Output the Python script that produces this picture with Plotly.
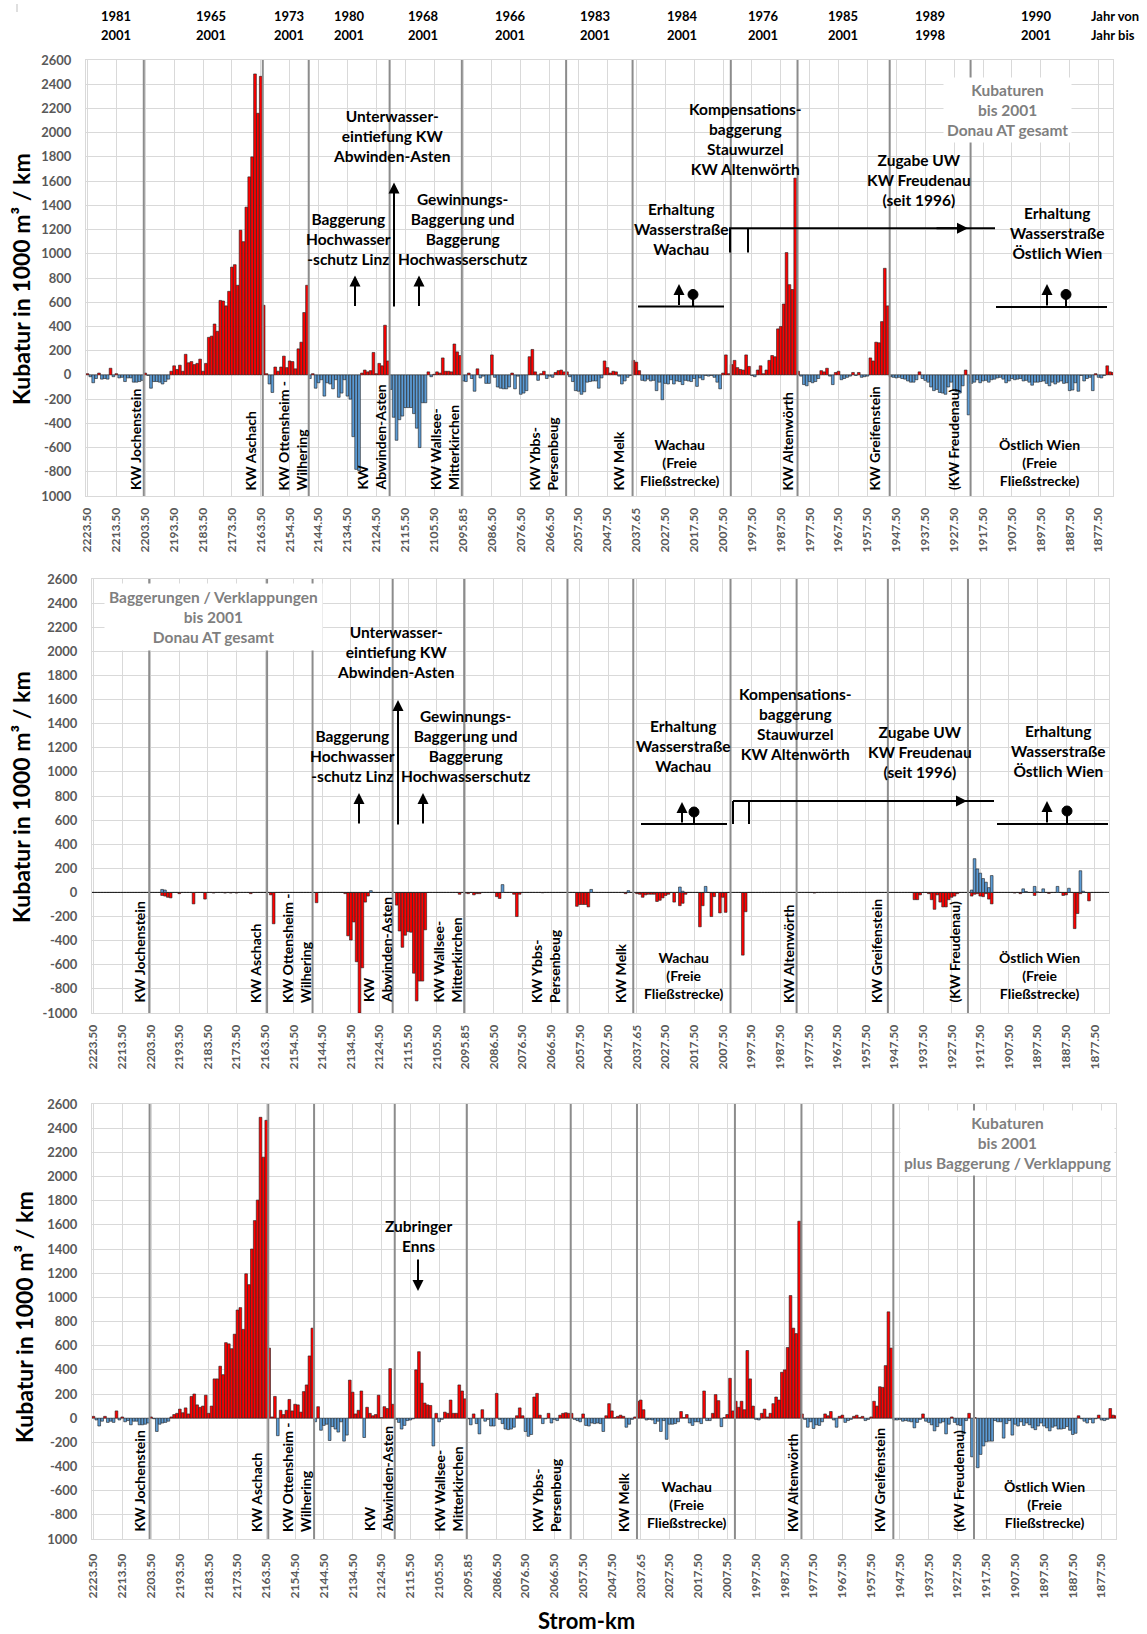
import plotly.graph_objects as go

W, H = 1147, 1634

# ---------------- data ----------------
tick_km = ["2223.50", "2213.50", "2203.50", "2193.50", "2183.50", "2173.50", "2163.50", "2154.50",
           "2144.50", "2134.50", "2124.50", "2115.50", "2105.50", "2095.85", "2086.50", "2076.50",
           "2066.50", "2057.50", "2047.50", "2037.65", "2027.50", "2017.50", "2007.50", "1997.50",
           "1987.50", "1977.50", "1967.50", "1957.50", "1947.50", "1937.50", "1927.50", "1917.50",
           "1907.50", "1897.50", "1887.50", "1877.50"]

# Kubaturen bis 2001 (1000 m3 / km), one value per category (km section)
kubatur_2001 = [
    10, -15, -65, -30, 15, -35, -30, -35, 55, -15, 10, -25, -20, -55, -25, -25, -60, -60, -55, -45,
    15, -5, -110, -55, -55, -60, -75, -55, -35, 30,
    75, 45, 80, 30, 170, 100, 110, 85, 95, 130,
    30, 95, 310, 320, 420, 360, 615, 610, 570, 690,
    890, 910, 740, 1195, 1100, 1385, 1635, 1800, 2485, 2160,
    2465,
    575, 10, -75, -145, 65, 30, 65, 155, 60, 115, 110, 50, 215, 270, 515, 740,
    -30, 10, -110, -65, -40, -175, -65, -75, -115, -40, -185, -150, -40, -175, -200, -510, -780, -790,
    15, 40, 25, 35, 185, 10, 95, 75, 410, 115,
    -120, -350, -540, -370, -340, -270, -270, -270, -320, -440, -600, -230, -230, 25, -15, 5, 25, 15,
    140, 30, 30, 25, 255, 190, 160,
    -50, -55, 15, -30, -135, 50, -25, -10, -70, -70, 165, -20, -100, -110, -115, -115, -100, 15, -115,
    -10, -160, -150, -130, 150, 210, 25, -45, 10, 30, -30, -10, -20, 20, 35, 40, 25,
    25, -15, -55, -130, -135, -160, -140, -60, -55, -50, -50, -110, -25, 115, 60, 15, 30, 25, -10, -75,
    -50, -20, -5,
    120, 105, 35, -45, -50, -35, -50, -45, -130, -60, -205, -70, -75, -40, -75, -50, -55, -80, -45, -50,
    -55, -30, -95, -25, -40, -5, -10, -5, -20, -60, -115, 15, 165, 10,
    85, 120, 60, 45, 40, 165, 70, -5, -15, 40, 75, 10, 40, 120, 160, 150, 380, 400, 585, 1010, 745, 705, 1625,
    30, -10, -80, -90, -55, -65, -55, -30, 35, 25, 55, -10, -80, 20, 30, -40, -30, -20, -10, 20, -5, 20,
    -20, -15, -10, 140, 115, 270, 265, 440, 880, 570,
    -15, -20, -25, -20, -30, -35, -50, -60, -60, -40, 25, -30, -45, -60, -100, -130, -120, -145, -150,
    -160, -100, -60, -130, -140, -150, -90, 40, -330,
    -70, -60, -40, -65, -50, -45, -60, -40, -35, -25, -20, -35, -65, -50, -30, -40, -35, -30, -50, -45,
    -60, -85, -60, -60, -55, -50, -70, -90, -60, -75, -60, -50, -70, -65, -130, -125, -65, -135, -5, -50,
    -30, -20, -130, 10, -20, -25, -5, 75, 25, 20,
]

# Baggerungen (negative) by category index
baggerung = {
    24: -25, 25: -30, 26: -40, 27: -45, 30: -10, 35: -95, 39: -55, 42: -5, 46: -5, 48: -5, 50: -5, 55: -10,
    62: -20, 63: -260, 78: -85,
    88: -10, 89: -360, 90: -395, 91: -245, 92: -575, 93: -1000, 94: -625, 95: -80, 96: -30,
    106: -105, 107: -320, 108: -455, 109: -355, 110: -325, 111: -330, 112: -670, 113: -900, 114: -735,
    115: -735, 116: -310,
    128: -15, 130: -5, 131: -10, 133: -20, 134: -10, 135: -10, 141: -35, 142: -50, 147: -15, 148: -200,
    149: -15, 157: -3,
    169: -115, 170: -100, 171: -100, 172: -100, 173: -120, 186: -10,
    190: -10, 191: -15, 192: -40, 193: -20, 194: -15, 195: -15, 196: -15, 197: -75, 198: -65, 199: -45,
    200: -25, 201: -15, 203: -80, 205: -110, 206: -90, 207: -15, 212: -285, 213: -110, 216: -200,
    217: -35, 219: -170, 220: -40, 221: -165,
    227: -520, 228: -160, 252: -5,
    287: -60, 288: -60, 289: -20, 292: -10, 293: -60, 294: -140, 295: -20, 296: -80, 297: -120, 298: -120,
    299: -60, 300: -40, 301: -30, 302: -10,
    307: -30, 308: -15, 309: -10, 310: -30, 311: -35, 312: -10, 313: -55, 314: -95, 322: -5, 324: -10,
    329: -25, 334: -8, 339: -25, 340: -20, 343: -300, 344: -175, 345: -10, 348: -70,
}
# Verklappungen (positive) by category index
verklappung = {
    24: 25, 25: 20, 97: 15, 143: 65, 174: 25, 187: 15, 205: 45, 206: 10, 214: 50,
    307: 20, 308: 280, 309: 195, 310: 160, 311: 115, 312: 85, 313: 40, 314: 140,
    325: 30, 326: 8, 329: 50, 330: 5, 332: 30, 337: 50, 341: 35, 345: 180, 346: 10,
}

# Kubaturen bis 2001 plus Baggerung / Verklappung
kubatur_plus = [
    15, -15, -65, -25, 15, -35, -25, -35, 60, -15, 10, -30, -20, -55, -25, -25, -55, -55, -50, -40,
    10, -5, -110, -50, -40, -35, -25, 10, 30, 40,
    75, 45, 85, 35, 180, 200, 110, 90, 100, 190,
    40, 100, 325, 325, 430, 360, 625, 615, 575, 695,
    895, 915, 735, 1195, 1105, 1400, 1635, 1805, 2490, 2160,
    2465,
    580, 10, 180, -145, 65, 30, 65, 155, 60, 115, 110, 50, 220, 275, 515, 745,
    -30, 95, -100, -60, -50, -185, -70, -90, -115, -30, -190, -140, 315, 215, 35, 65, 225, -160,
    90, 40, 20, 30, 190, 5, 95, 80, 410, 115,
    -10, -35, -90, -60, -20, -15, -5, 400, 550, 290, 125, 110, 105, -230, 40, -30, -10, 50, 40, 150,
    40, 40, 275, 225, 160,
    -5, -55, 35, -45, -130, 70, -25, -10, -65, -65, 205, -10, -45, -90, -95, -90, -75, 20, 85, 20,
    -110, -150, -135, 175, 205, 25, -45, -5, 40, -40, -10, -20, 25, 40, 45, 40,
    40, -10, -20, -30, 35, -60, -65, -40, -45, -40, -45, -110, 20, 120, 60, 5, 15, 25, 15, -75, -50, -10, 10,
    140, 150, 70, -15, -10, -15, -45, -25, -110, -20, -175, -50, -50, -45, -30, 55, 5, 30, -40, -60,
    -30, -30, -45, 225, -20, -20, 40, 195, 145, -70, 5, 30, 330, 60,
    140, 90, 140, 70, 560, 325, 100, -10, -15, 40, 75, 10, 40, 120, 175, 150, 380, 400, 585, 1015, 745, 700, 1630,
    35, -10, -75, -30, -85, -55, -60, -30, 35, 20, 55, -15, -75, 15, 25, -35, -20, -10, 15, 25,
    5, 15, -20, -10, 10, 140, 100, 260, 255, 435, 880, 580,
    -15, -15, -10, -25, -20, -25, -30, -80, -35, -10, 35, -25, -35, -55, -105, -70, -40, -30, -130, -50,
    10, -35, -55, -60, -130, -20, 40, -320,
    5, -410, -300, -230, -195, -190, -190, -20, -30, -30, -165, -45, -20, -140, -50, -65, -30, -60, -40, -55,
    -80, -95, -65, -40, -65, -80, -105, -75, -65, -90, -90, -85, -70, -100, -135, -125, 20, -5, -25, -40,
    -10, -40, -5, 25, -15, -20, -10, 80, 25, 20,
]

# power plant (KW) positions on the category axis
kw_positions = [19.5, 60.7, 76.6, 104.6, 129.6, 165.7, 188.7, 222.7, 245.8, 277.7, 305.7]

years_from = ["1981", "1965", "1973", "1980", "1968", "1966", "1983", "1984", "1976", "1985", "1989", "1990"]
years_to = ["2001", "2001", "2001", "2001", "2001", "2001", "2001", "2001", "2001", "2001", "1998", "2001"]

# ---------------- styling / layout ----------------
RED = "#FF0000"
BLUE = "#5B9BD5"
GRID = "#D9D9D9"
TICK = "#595959"
KWLINE = "#8C8C8C"
FONT = "Lato"
TS = 15.5   # annotation text size


def PX(x):
    return x / W


def PY(y):
    return 1 - y / H


panels = [
    dict(x0=86, x1=1113, y0=60, y1=496, xstand=6),
    dict(x0=92, x1=1109, y0=579, y1=1013, xstand=6),
    dict(x0=92, x1=1116, y0=1104, y1=1539, xstand=9),
]

ncat = len(kubatur_2001)
cats = list(range(ncat))

fig = go.Figure()

line_style = dict(color="#1F1F1F", width=0.6)

# panel 1
fig.add_trace(go.Bar(x=list(range(len(kubatur_2001))), y=kubatur_2001,
                     marker=dict(color=[RED if v >= 0 else BLUE for v in kubatur_2001], line=line_style),
                     xaxis="x", yaxis="y"))
# panel 2
bag_vals = [baggerung.get(i, 0) for i in cats]
ver_vals = [verklappung.get(i, 0) for i in cats]
fig.add_trace(go.Bar(x=cats, y=bag_vals, marker=dict(color=RED, line=line_style), xaxis="x2", yaxis="y2"))
fig.add_trace(go.Bar(x=cats, y=ver_vals, marker=dict(color=BLUE, line=line_style), xaxis="x2", yaxis="y2"))
# panel 3
fig.add_trace(go.Bar(x=list(range(len(kubatur_plus))), y=kubatur_plus,
                     marker=dict(color=[RED if v >= 0 else BLUE for v in kubatur_plus], line=line_style),
                     xaxis="x3", yaxis="y3"))

yvals = list(range(-1000, 2601, 200))
layout = dict(
    width=W, height=H, margin=dict(l=0, r=0, t=0, b=0, autoexpand=False),
    paper_bgcolor="white", plot_bgcolor="white", barmode="relative", bargap=0.06,
    showlegend=False, hovermode=False, font=dict(family=FONT),
)
for k, p in enumerate(panels):
    sx = "" if k == 0 else str(k + 1)
    yt = [("1000" if (v == -1000 and k != 1) else str(v)) for v in yvals]
    layout["xaxis" + sx] = dict(
        domain=[PX(p["x0"]), PX(p["x1"])], anchor="y" + sx, range=[-0.5, 355],
        tickmode="array", tickvals=list(range(0, 351, 10)), ticktext=tick_km, tickangle=-90,
        tickfont=dict(family=FONT, size=12, color=TICK, weight="bold"),
        showgrid=True, gridcolor=GRID, gridwidth=1, zeroline=False,
        showline=True, linecolor=GRID, mirror=True, ticks="", ticklabelstandoff=p["xstand"],
    )
    layout["yaxis" + sx] = dict(
        domain=[PY(p["y1"]), PY(p["y0"])], anchor="x" + sx, range=[-1000, 2600],
        tickmode="array", tickvals=yvals, ticktext=yt,
        tickfont=dict(family=FONT, size=13, color=TICK, weight="bold"),
        showgrid=True, gridcolor=GRID, gridwidth=1, zeroline=True, zerolinecolor=GRID, zerolinewidth=1,
        showline=True, linecolor=GRID, mirror=True, ticks="", ticklabelstandoff=11,
    )
fig.update_layout(**layout)

shapes = []
annotations = []

# KW separator lines
for k in range(3):
    sx = "" if k == 0 else str(k + 1)
    for pos in kw_positions:
        shapes.append(dict(type="line", xref="x" + sx, yref="y" + sx + " domain", x0=pos, x1=pos, y0=0, y1=1,
                           line=dict(color=KWLINE, width=2), layer="above"))


def txt(text, x, y, size=TS, color="black", xanchor="center", yanchor="middle", angle=0, align="center",
        bg=None, pad=1):
    a = dict(text=text, x=PX(x), y=PY(y), xref="paper", yref="paper", showarrow=False,
             font=dict(family=FONT, size=size, color=color, weight="bold"),
             xanchor=xanchor, yanchor=yanchor, textangle=angle, align=align)
    if bg:
        a["bgcolor"] = bg
        a["borderpad"] = pad
    return a


def arrow(xh, yh, xt, yt, width=2):
    return dict(text="", x=PX(xh), y=PY(yh), xref="paper", yref="paper", showarrow=True,
                ax=xt - xh, ay=yt - yh, axref="pixel", ayref="pixel",
                arrowhead=2, arrowsize=1.1, arrowwidth=width, arrowcolor="black", standoff=0, startstandoff=0)


def seg(x0, y0, x1, y1, width=2, color="black"):
    return dict(type="line", xref="paper", yref="paper", x0=PX(x0), y0=PY(y0), x1=PX(x1), y1=PY(y1),
                line=dict(color=color, width=width), layer="above")


def dot(cx, cy, r=5):
    return dict(type="circle", xref="paper", yref="paper", x0=PX(cx - r), x1=PX(cx + r),
                y0=PY(cy + r), y1=PY(cy - r), fillcolor="black", line=dict(color="black", width=1), layer="above")


# small corner mark (top left)
shapes.append(seg(17, 4, 17, 12, width=1, color="#BFBFBF"))

# header years
year_x = [116, 211, 289, 349, 423, 510, 595, 682, 763, 843, 930, 1036]
for yf, yto, xx in zip(years_from, years_to, year_x):
    annotations.append(txt(yf, xx, 16, size=13))
    annotations.append(txt(yto, xx, 35, size=13))
annotations.append(txt("Jahr von", 1089, 16, size=13, xanchor="left"))
annotations.append(txt("Jahr bis", 1089, 35, size=13, xanchor="left"))

# y titles and x title
ytitle = "Kubatur in 1000 m³ / km"
for (xx, yy) in [(21, 279), (21, 797), (24, 1317)]:
    annotations.append(txt(ytitle, xx, yy, size=23, angle=-90))
annotations.append(txt("Strom-km", 586, 1620, size=22))

# ---- panel 1 annotations ----
annotations += [
    txt("Unterwasser-<br>eintiefung KW<br>Abwinden-Asten", 391, 135.5),
    txt("Baggerung<br>Hochwasser<br>-schutz Linz", 348, 238.7),
    txt("Gewinnungs-<br>Baggerung und<br>Baggerung<br>Hochwasserschutz", 462, 229),
    txt("Erhaltung<br>Wasserstraße<br>Wachau", 681, 229),
    txt("Kompensations-<br>baggerung<br>Stauwurzel<br>KW Altenwörth", 745, 138.8),
    txt("Zugabe UW<br>KW Freudenau<br>(seit 1996)", 919, 180),
    txt("Erhaltung<br>Wasserstraße<br>Östlich Wien", 1057, 233),
    txt("Kubaturen<br>bis 2001<br>Donau AT gesamt", 1007, 109.6, color="#7F7F7F", bg="white", pad=3),
    arrow(394, 182.5, 394, 308), arrow(355, 275.5, 355, 307.5), arrow(419, 275.5, 419, 307.5),
    arrow(679, 284, 679, 306.5), arrow(1047, 284, 1047, 307),
    arrow(968, 228.3, 935, 228.3),
]
shapes += [
    seg(638, 306.5, 724, 306.5), seg(693, 294.5, 693, 306.5), dot(693, 294.5),
    seg(729, 228.3, 995, 228.3), seg(730, 228.3, 730, 252.5), seg(748, 228.3, 748, 252.5),
    seg(996, 307, 1107, 307), seg(1066, 294.5, 1066, 307), dot(1066, 294.5),
]

# ---- panel 2 annotations ----
annotations += [
    txt("Unterwasser-<br>eintiefung KW<br>Abwinden-Asten", 395, 652),
    txt("Baggerung<br>Hochwasser<br>-schutz Linz", 352, 756),
    txt("Gewinnungs-<br>Baggerung und<br>Baggerung<br>Hochwasserschutz", 465, 746),
    txt("Erhaltung<br>Wasserstraße<br>Wachau", 683, 746),
    txt("Kompensations-<br>baggerung<br>Stauwurzel<br>KW Altenwörth", 795, 724),
    txt("Zugabe UW<br>KW Freudenau<br>(seit 1996)", 920, 752),
    txt("Erhaltung<br>Wasserstraße<br>Östlich Wien", 1058, 751),
    txt("Baggerungen / Verklappungen<br>bis 2001<br>Donau AT gesamt", 213, 617, color="#7F7F7F", bg="white", pad=4),
    arrow(398, 700, 398, 826), arrow(359, 793, 359, 825), arrow(423, 793, 423, 825),
    arrow(682, 802, 682, 824), arrow(1047, 801, 1047, 824),
    arrow(967, 801, 934, 801),
]
shapes += [
    seg(641, 824, 727, 824), seg(694, 812, 694, 824), dot(694, 812),
    seg(733, 801, 994, 801), seg(733, 801, 733, 824), seg(749, 801, 749, 824),
    seg(997, 824, 1108, 824), seg(1067, 811, 1067, 824), dot(1067, 811),
]

# ---- panel 3 annotations ----
annotations += [
    txt("Zubringer<br>Enns", 418, 1236),
    arrow(418, 1291, 418, 1258),
    txt("Kubaturen<br>bis 2001<br>plus Baggerung / Verklappung", 1007, 1143, color="#7F7F7F", bg="white", pad=3),
]

# KW labels (rotated)
kw_texts = ["KW Jochenstein", "KW Aschach", "KW Ottensheim -<br>Wilhering", "KW<br>Abwinden-Asten",
            "KW Wallsee-<br>Mitterkirchen", "KW Ybbs-<br>Persenbeug", "KW Melk", "KW Altenwörth",
            "KW Greifenstein", "(KW Freudenau)"]
kw_label_x = [
    [135, 250, 292, 371, 444, 543, 618, 787, 874, 953],
    [139, 255, 296, 377, 447, 545, 620, 788, 876, 954],
    [139, 256, 296, 378, 448, 546, 623, 792, 879, 958],
]
kw_label_bottom = [492.5, 1005, 1534]
free_y = [462.5, 975, 1504]
wachau_x = [680, 684, 687]
wien_x = [1039, 1039, 1044]
for k in range(3):
    for t, xx in zip(kw_texts, kw_label_x[k]):
        annotations.append(txt(t, xx, kw_label_bottom[k], size=14, angle=-90, align="left",
                               xanchor="center", yanchor="bottom"))
    annotations.append(txt("Wachau<br>(Freie<br>Fließstrecke)", wachau_x[k], free_y[k], size=14))
    annotations.append(txt("Östlich Wien<br>(Freie<br>Fließstrecke)", wien_x[k], free_y[k], size=14))

fig.update_layout(shapes=shapes, annotations=annotations)
fig.write_html("out.html", config={"displayModeBar": False},
               post_script="document.body.style.margin='0';document.body.style.overflow='hidden';")
